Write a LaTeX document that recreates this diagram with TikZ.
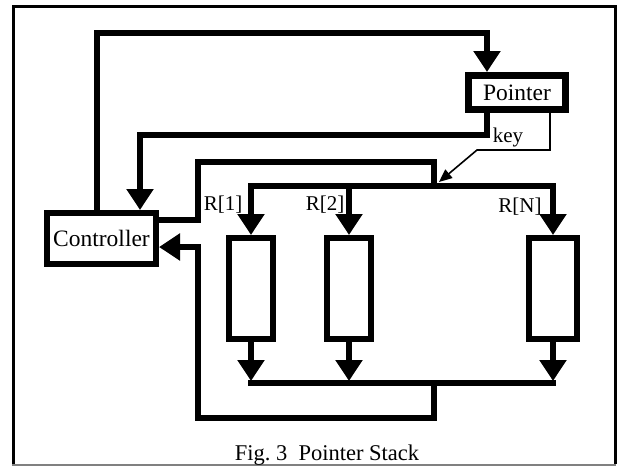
\documentclass[tikz,border=0pt]{standalone}
\usepackage{fontspec}
\setmainfont{Liberation Serif}
\usetikzlibrary{arrows.meta}
\begin{document}
\begin{tikzpicture}[x=1pt,y=-1pt,
  bus/.style={line width=6pt,line join=miter},
  bigtip/.style={-{Triangle[length=21pt,width=26pt]}},
  blk/.style={draw,line width=6pt,inner sep=0pt,fill=white},
  lbl/.style={font=\fontsize{21}{23}\selectfont,inner sep=0pt},
  boxtxt/.style={font=\fontsize{23.5}{25}\selectfont},
  keyline/.style={line width=1.6pt,-{Triangle[length=13pt,width=11pt]}},
  outerframe/.style={line width=3pt}]
\useasboundingbox (0,0) rectangle (619,467);
% frame
\draw[outerframe] (13,464) -- (13,6) -- (615,6) -- (615,464);
\draw[gray,line width=1.5pt] (12,465) -- (616,465);
% nodes
\node[blk,line width=7pt,minimum width=97pt,minimum height=34pt,boxtxt] (ptr) at (517,92.5) {Pointer};
\node[blk,minimum width=109pt,minimum height=51pt,boxtxt] (ctrl) at (101.5,238.5) {Controller};
\node[blk,minimum width=44pt,minimum height=101pt] (r1) at (251,288.5) {};
\node[blk,minimum width=44pt,minimum height=101pt] (r2) at (349,288.5) {};
\node[blk,minimum width=48pt,minimum height=101pt] (rN) at (553,288.5) {};
\node[lbl] (l1) at (223,205) {R[1]};
\node[lbl] (l2) at (325,205) {R[2]};
\node[lbl] (lN) at (520,207) {R[N]};
\node[lbl] (key) at (508,137) {key};
\node[font=\fontsize{22.5}{24}\selectfont,anchor=base,inner sep=0pt] (cap) at (327,460) {Fig.\ 3\ \ Pointer Stack};
% coordinates
\coordinate (t1) at (97,33);
\coordinate (t2) at (487,33);
\coordinate (p1) at (487,135);
\coordinate (p2) at (140,135);
\coordinate (c1) at (198,220);
\coordinate (c2) at (198,247);
\coordinate (u1) at (434,162);
\coordinate (jn) at (434,186);
\coordinate (bb) at (434,383);
\coordinate (bt) at (434,381);
\coordinate (lp) at (434,418);
\coordinate (k1) at (550,150);
\coordinate (k2) at (477,150);
\coordinate (kt) at (439,182);
% controller -> pointer
\draw[bus,bigtip] (ctrl.north -| t1) |- (t2) -- (ptr.north -| t2);
% pointer -> controller
\draw[bus,bigtip] (ptr.south -| p1) -- (p1) -- (p2) -- (ctrl.north -| p2);
% controller -> register bus
\draw[bus] (ctrl.east |- c1) -- (c1) |- (u1) -- (jn);
\draw[bus,bigtip] (jn) -| (r1.north);
\draw[bus,bigtip] (jn) -| (rN.north);
\draw[bus,bigtip] (r2.north |- jn) -- (r2.north);
% key
\draw[keyline] (ptr.south -| k1) -- (k1) -- (k2) -- (kt);
% outputs
\draw[bus,bigtip] (r1.south) -- (r1.south |- bt);
\draw[bus,bigtip] (r2.south) -- (r2.south |- bt);
\draw[bus,bigtip] (rN.south) -- (rN.south |- bt);
\draw[bus,line cap=rect] (r1.south |- bb) -- (rN.south |- bb);
% return to controller
\draw[bus,bigtip] (bb) -- (lp) -| (c2) -- (ctrl.east |- c2);
\end{tikzpicture}
\end{document}
